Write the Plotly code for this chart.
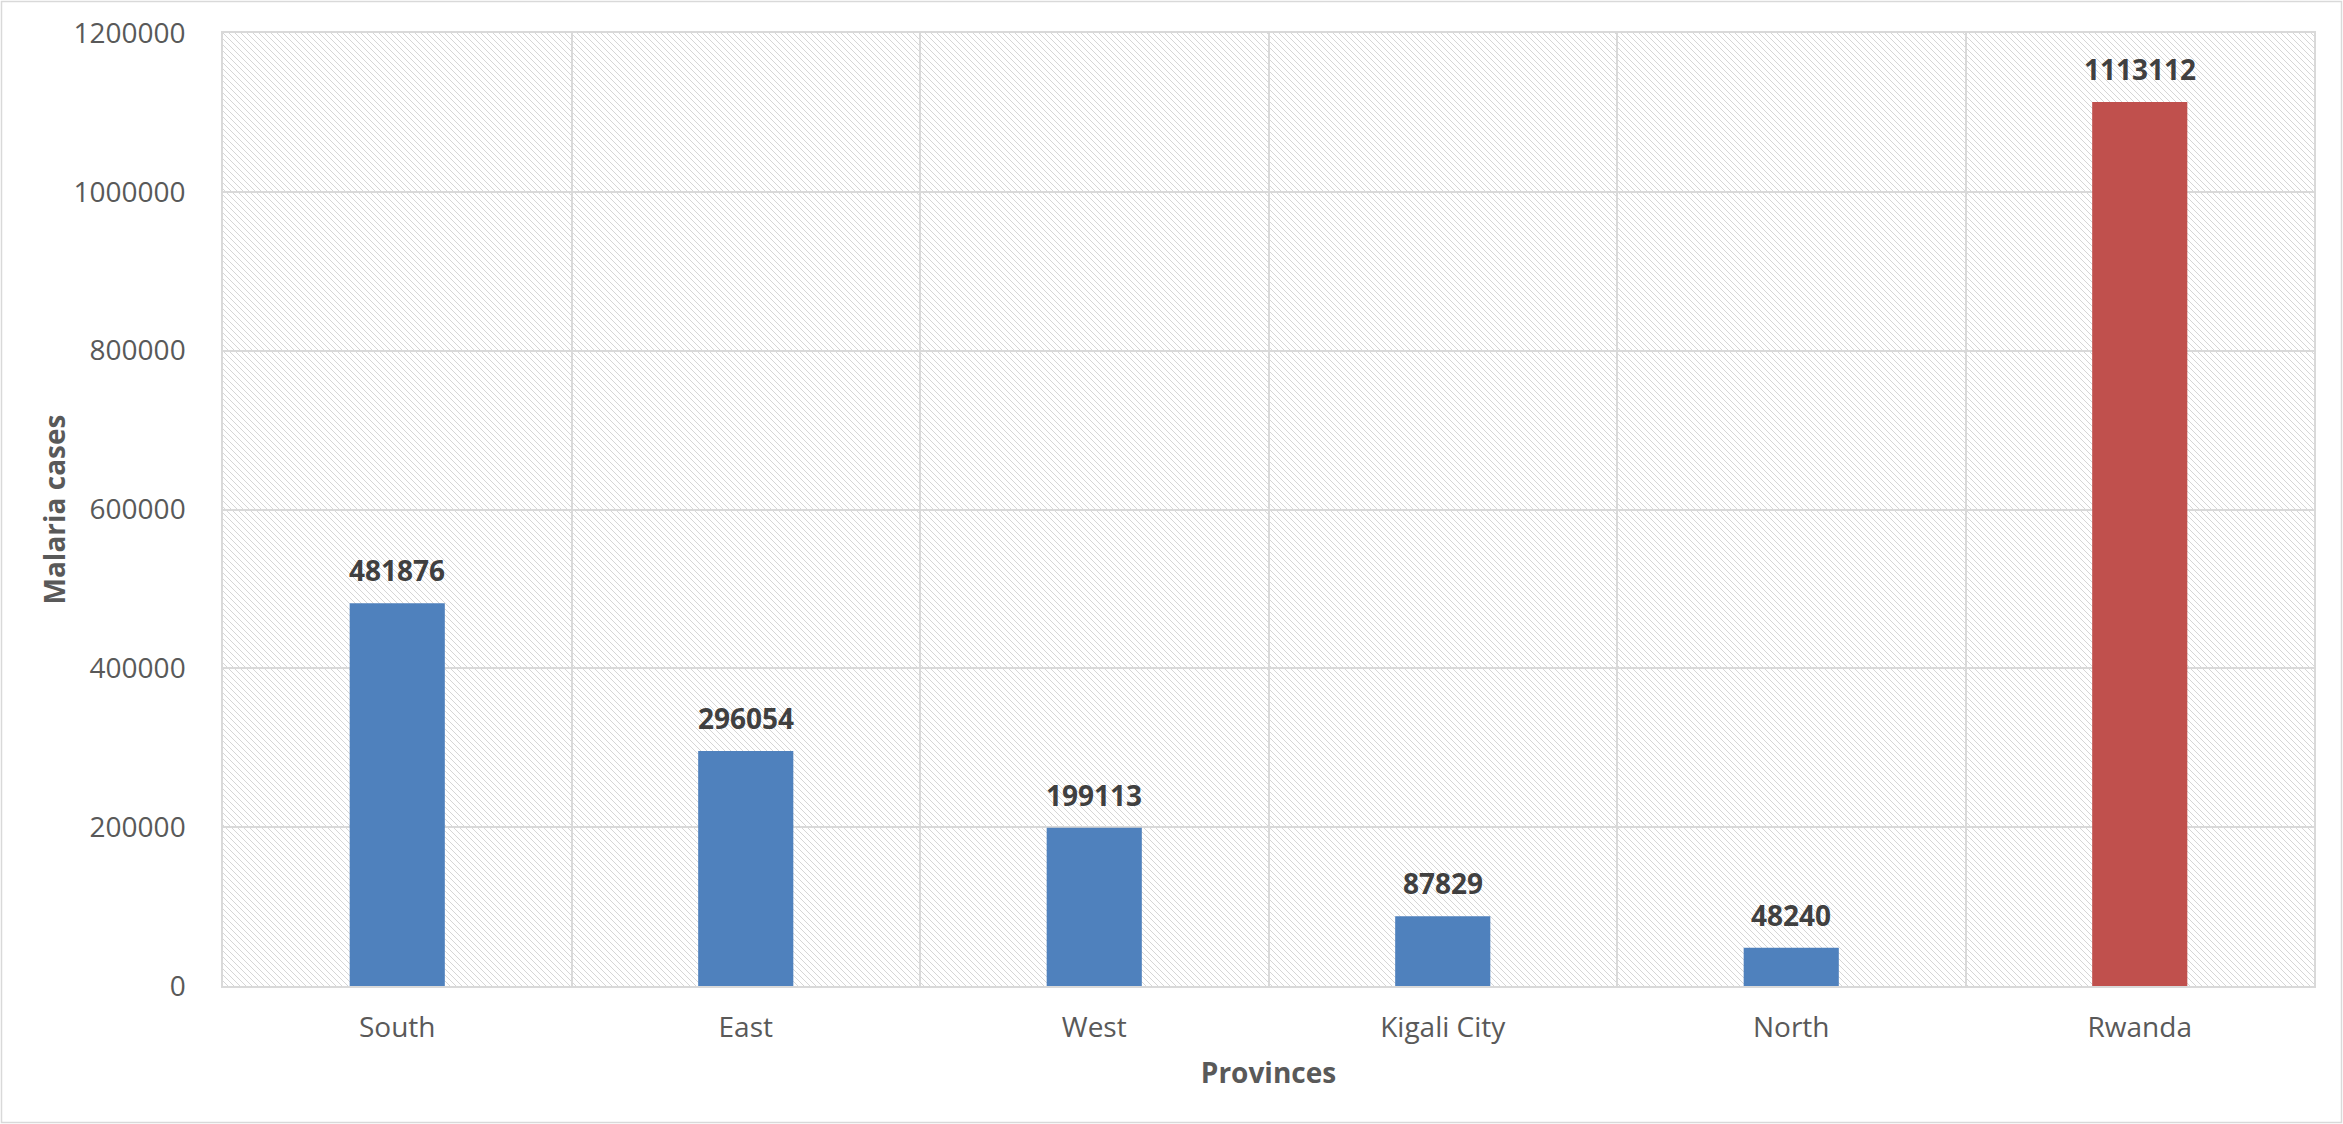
import plotly.graph_objects as go
import base64

provinces = ["South", "East", "West", "Kigali City", "North", "Rwanda"]
cases = [481876, 296054, 199113, 87829, 48240, 1113112]
bar_colors = ["#4F81BD", "#4F81BD", "#4F81BD", "#4F81BD", "#4F81BD", "#C0504D"]
y_ticks = [0, 200000, 400000, 600000, 800000, 1000000, 1200000]

W, H = 2343, 1124
ML, MR, MT, MB = 223, 29, 33, 138
PW, PH = W - ML - MR, H - MT - MB

# hatch background pattern (decorative)
P = 6
dots = "".join(f'<rect x="{i}" y="{i}" width="1" height="1" fill="#d6d6d6"/>' for i in range(P))
svg = (
    f'<svg xmlns="http://www.w3.org/2000/svg" width="{PW}" height="{PH}" shape-rendering="crispEdges">'
    f'<defs><pattern id="p" patternUnits="userSpaceOnUse" width="{P}" height="{P}">'
    f'{dots}</pattern></defs>'
    f'<rect width="{PW}" height="{PH}" fill="white"/>'
    f'<rect width="{PW}" height="{PH}" fill="url(#p)"/></svg>'
)
src = "data:image/svg+xml;base64," + base64.b64encode(svg.encode()).decode()

font = "Open Sans, Calibri, sans-serif"

fig = go.Figure(
    go.Bar(
        x=provinces,
        y=cases,
        marker=dict(color=bar_colors, line=dict(width=0)),
        width=0.273,
        hoverinfo="x+y",
    )
)

annotations = [
    dict(
        x=p, y=v, xref="x", yref="y",
        text=f"<b>{v}</b>", showarrow=False,
        yanchor="bottom", yshift=12,
        font=dict(family=font, size=28, color="#404040"),
    )
    for p, v in zip(provinces, cases)
]

fig.update_layout(
    width=W, height=H,
    margin=dict(l=ML, r=MR, t=MT, b=MB, pad=0),
    paper_bgcolor="white",
    plot_bgcolor="rgba(0,0,0,0)",
    showlegend=False,
    annotations=annotations,
    images=[dict(
        source=src, xref="paper", yref="paper", x=0, y=1,
        sizex=1, sizey=1, xanchor="left", yanchor="top",
        sizing="stretch", layer="below",
    )],
    shapes=[dict(
        type="rect", xref="paper", yref="paper",
        x0=(1.5 - ML) / PW, x1=(W - 1.5 - ML) / PW,
        y0=-(H - 1.5 - MT - PH) / PH, y1=1 + (MT - 1.5) / PH,
        line=dict(color="#d9d9d9", width=1.5), fillcolor="rgba(0,0,0,0)",
        layer="below",
    )],
    xaxis=dict(
        type="category",
        tickson="boundaries",
        showgrid=True, gridcolor="#d9d9d9", gridwidth=1.5,
        showline=True, linecolor="#d9d9d9", linewidth=1.5, mirror=True,
        ticks="", ticklabelstandoff=16,
        tickfont=dict(family=font, size=28, color="#595959"),
        title=dict(text="<b>Provinces</b>", standoff=19,
                   font=dict(family=font, size=28, color="#595959")),
        range=[-0.5, 5.5],
    ),
    yaxis=dict(
        range=[0, 1200000],
        tickvals=y_ticks,
        ticktext=[str(t) for t in y_ticks],
        showgrid=True, gridcolor="#d9d9d9", gridwidth=1.5,
        showline=True, linecolor="#d9d9d9", linewidth=1.5, mirror=True,
        zeroline=False,
        ticks="outside", ticklen=30, tickcolor="rgba(0,0,0,0)",
        tickfont=dict(family=font, size=28, color="#595959"),
        title=dict(text="<b>Malaria cases</b>", standoff=0,
                   font=dict(family=font, size=28, color="#595959")),
    ),
)

fig.write_html("out.html")
